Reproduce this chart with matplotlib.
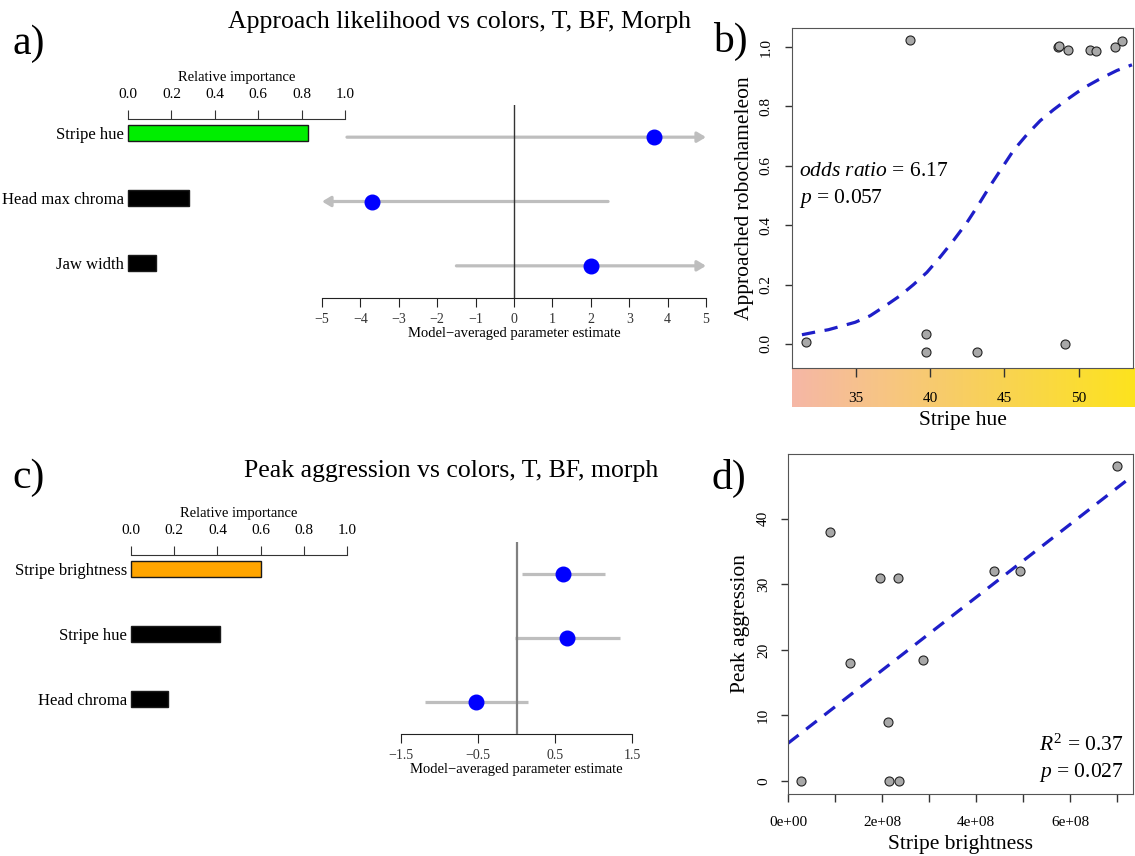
import numpy as np
import matplotlib
matplotlib.use('Agg')
import matplotlib.pyplot as plt
from matplotlib.colors import LinearSegmentedColormap

plt.rcParams['font.family'] = 'Liberation Serif'
plt.rcParams['mathtext.fontset'] = 'custom'
plt.rcParams['mathtext.rm'] = 'Liberation Serif'
plt.rcParams['mathtext.it'] = 'Liberation Serif:italic'

W, H = 1135, 856

# --- panel a: approach likelihood, model averaging
a_vars = ['Stripe hue', 'Head max chroma', 'Jaw width']
a_importance = [0.83, 0.28, 0.13]
a_bar_colors = ['#00ee00', 'black', 'black']
a_est = [3.65, -3.7, 2.0]
a_lo = [-4.35, -5.0, -1.5]   # -5 / 5 = runs off the axis (arrow)
a_hi = [5.0, 2.45, 5.0]

# --- panel c: peak aggression, model averaging
c_vars = ['Stripe brightness', 'Stripe hue', 'Head chroma']
c_importance = [0.60, 0.41, 0.17]
c_bar_colors = ['#ffa500', 'black', 'black']
c_est = [0.60, 0.65, -0.52]
c_lo = [0.07, -0.02, -1.19]
c_hi = [1.15, 1.35, 0.15]

# --- panel b: approached robochameleon vs stripe hue (jittered 0/1)
b_hue = [31.60, 38.61, 39.74, 39.74, 43.19, 49.08, 48.59, 48.70, 49.31, 50.74, 51.17, 52.45, 52.94]
b_approach = [0.007, 1.022, 0.034, -0.026, -0.026, 0.0, 1.0, 1.003, 0.991, 0.989, 0.985, 1.0, 1.020]
# fitted logistic curve
b_fit_hue = [31.36, 32.26, 33.15, 34.16, 34.95, 35.96, 37.09, 37.99, 38.88, 39.78, 40.68, 41.58, 42.48,
             43.26, 44.05, 44.84, 45.62, 46.52, 47.42, 48.32, 49.22, 50.34, 51.46, 52.59, 53.6]
b_fit_prob = [0.031, 0.040, 0.048, 0.062, 0.073, 0.095, 0.132, 0.163, 0.200, 0.241, 0.293, 0.349, 0.409,
              0.469, 0.533, 0.593, 0.652, 0.705, 0.752, 0.789, 0.823, 0.862, 0.893, 0.921, 0.940]
b_hue_ticks = [35, 40, 45, 50]
b_y_ticks = [0.0, 0.2, 0.4, 0.6, 0.8, 1.0]

# --- panel d: peak aggression vs stripe brightness
d_brightness = [0.27e8, 0.88e8, 1.32e8, 1.94e8, 2.34e8, 2.11e8, 2.15e8, 2.36e8, 2.87e8, 4.38e8, 4.93e8, 7.0e8]
d_aggression = [0, 38, 18, 31, 31, 9, 0, 0, 18.5, 32, 32, 48]
d_intercept = 5.8
d_slope = 5.56e-8
d_x_ticks = [0, 1e8, 2e8, 3e8, 4e8, 5e8, 6e8, 7e8]
d_x_labels = ['0e+00', '', '2e+08', '', '4e+08', '', '6e+08', '']
d_y_ticks = [0, 10, 20, 30, 40]

imp_ticks = [0.0, 0.2, 0.4, 0.6, 0.8, 1.0]

GREY = '#bebebe'
FITBLUE = '#1e1ec8'
PTGREY = '#a8a8a8'

fig = plt.figure(figsize=(W / 100, H / 100), dpi=100)


def px_axes(left, top, right, bottom):
    return fig.add_axes([left / W, 1 - bottom / H, (right - left) / W, (bottom - top) / H])


def ftext(x, y, s, **kw):
    fig.text(x / W, 1 - y / H, s, **kw)


def importance_panel(left, right, top, bottom, names, values, colors):
    ax = px_axes(left, top, right, bottom)
    y = np.arange(len(names))
    ax.barh(y, values, height=0.246, color=colors, edgecolor='#1a1a1a', linewidth=1, clip_on=False)
    ax.set_xlim(0, 1)
    ax.set_ylim(2.54, -0.215)
    for s in ['left', 'right', 'bottom']:
        ax.spines[s].set_visible(False)
    ax.spines['top'].set_color('#333333')
    ax.xaxis.tick_top()
    ax.xaxis.set_label_position('top')
    ax.set_xticks(imp_ticks)
    ax.set_xticklabels(['%.1f' % v for v in imp_ticks])
    ax.tick_params(axis='x', length=6.5, width=0.8, color='#333333', labelsize=11, pad=6.5)
    ax.set_xlabel('Relative importance', fontsize=10.5, labelpad=5)
    ax.set_yticks(y)
    ax.set_yticklabels(names, fontsize=12)
    ax.tick_params(axis='y', length=0, pad=3)
    ax.patch.set_visible(False)
    return ax


def estimate_panel(left, right, top, bottom, est, lo, hi, xlim, ticks, zero_color, zero_lw):
    ax = px_axes(left, top, right, bottom)
    ax.set_xlim(xlim)
    ax.set_ylim(2.5, -0.5)
    ax.axvline(0, color=zero_color, lw=zero_lw, zorder=3)
    for i in range(len(est)):
        if hi[i] >= xlim[1]:
            ax.annotate('', xy=(hi[i], i), xytext=(lo[i], i),
                        arrowprops=dict(arrowstyle='-|>,head_length=0.5,head_width=0.3', color=GREY,
                                        lw=2.3, shrinkA=0, shrinkB=0, mutation_scale=10), zorder=2,
                        annotation_clip=False)
        elif lo[i] <= xlim[0]:
            ax.annotate('', xy=(lo[i], i), xytext=(hi[i], i),
                        arrowprops=dict(arrowstyle='-|>,head_length=0.5,head_width=0.3', color=GREY,
                                        lw=2.3, shrinkA=0, shrinkB=0, mutation_scale=10), zorder=2,
                        annotation_clip=False)
        else:
            ax.hlines(i, lo[i], hi[i], color=GREY, lw=2.3, zorder=2)
    ax.plot(est, range(len(est)), 'o', color='#0000ff', ms=10.5, zorder=4, clip_on=False)
    for s in ['left', 'right', 'top']:
        ax.spines[s].set_visible(False)
    ax.spines['bottom'].set_color('#222222')
    ax.set_yticks([])
    ax.set_xticks(ticks)
    ax.tick_params(axis='x', length=6.5, width=0.8, color='#222222', labelsize=10,
                   labelcolor='#333333', pad=4)
    ax.set_xlabel('Model\u2212averaged parameter estimate', fontsize=10.5, labelpad=1)
    ax.patch.set_visible(False)
    return ax


# ---------------- panel a
ftext(12, 44, 'a)', fontsize=30, va='center', ha='left')
ftext(460, 22, 'Approach likelihood vs colors, T, BF, Morph', fontsize=18.5, ha='center', va='center')
importance_panel(128, 345, 119, 298, a_vars, a_importance, a_bar_colors)
estimate_panel(322, 706, 105, 298, a_est, a_lo, a_hi, (-5, 5), list(range(-5, 6)), '#333333', 1.0)

# ---------------- panel c
ftext(12, 478, 'c)', fontsize=30, va='center', ha='left')
ftext(451, 471, 'Peak aggression vs colors, T, BF, morph', fontsize=18.5, ha='center', va='center')
importance_panel(131, 347, 555, 734, c_vars, c_importance, c_bar_colors)
estimate_panel(401, 632, 542, 734, c_est, c_lo, c_hi, (-1.5, 1.5), [-1.5, -0.5, 0.5, 1.5], '#808080', 1.6)

# ---------------- panel b
b_xlim = (30.69, 53.67)
strip = px_axes(792, 368, 1135, 407)
grad_cmap = LinearSegmentedColormap.from_list('hue', ['#f5b7a6', '#f7c486', '#f8ce62', '#fad940', '#fde31e'])
strip.imshow(np.linspace(0, 1, 256)[None, :], extent=[b_xlim[0], b_xlim[1] + 0.15, 0, 1],
             aspect='auto', cmap=grad_cmap)
strip.set_xlim(b_xlim[0], b_xlim[1] + 0.15)
strip.axis('off')

ax_b = px_axes(792, 28, 1133, 368)
ax_b.set_zorder(3)
ax_b.patch.set_visible(False)
ax_b.plot(b_fit_hue, b_fit_prob, color=FITBLUE, lw=2.3, ls=(0, (4.2, 3)))
ax_b.plot(b_hue, b_approach, 'o', ms=6.5, mfc=PTGREY, mec='#222222', mew=0.8)
ax_b.set_xlim(b_xlim)
ax_b.set_ylim(-0.081, 1.064)
for s in ax_b.spines.values():
    s.set_color('#555555')
ax_b.set_xticks(b_hue_ticks)
ax_b.set_yticks(b_y_ticks)
ax_b.set_yticklabels(['%.1f' % v for v in b_y_ticks], rotation=90, va='center')
ax_b.tick_params(axis='x', length=6.5, width=1, color='#333333', labelsize=11, pad=10.5)
ax_b.tick_params(axis='y', length=5, width=1, color='#333333', labelsize=11, pad=9)
ax_b.set_xlabel('Stripe hue', fontsize=15.5, labelpad=4.5)
ax_b.set_ylabel('Approached robochameleon', fontsize=15.5, labelpad=4)
ftext(799, 172, '$odds\\ ratio$ = 6.17', fontsize=15.5, va='center', ha='left')
ftext(799, 199, '$p$ = 0.057', fontsize=15.5, va='center', ha='left')
ftext(713, 41, 'b)', fontsize=30, va='center', ha='left')

# ---------------- panel d
ax_d = px_axes(788, 454, 1133, 794)
ax_d.axline((0, d_intercept), slope=d_slope, color=FITBLUE, lw=2.3, ls=(0, (4.2, 3)))
ax_d.plot(d_brightness, d_aggression, 'o', ms=6.5, mfc=PTGREY, mec='#222222', mew=0.8)
ax_d.set_xlim(-0.01e8, 7.34e8)
ax_d.set_ylim(-2.0, 49.9)
for s in ax_d.spines.values():
    s.set_color('#555555')
ax_d.set_xticks(d_x_ticks)
ax_d.set_xticklabels(d_x_labels)
ax_d.set_yticks(d_y_ticks)
ax_d.set_yticklabels([str(v) for v in d_y_ticks], rotation=90, va='center')
ax_d.tick_params(axis='x', length=5.5, width=1, color='#333333', labelsize=11, pad=10.5)
ax_d.tick_params(axis='y', length=5, width=1, color='#333333', labelsize=11, pad=8)
ax_d.set_xlabel('Stripe brightness', fontsize=15.5, labelpad=4)
ax_d.set_ylabel('Peak aggression', fontsize=15.5, labelpad=5)
ftext(1124, 745, '$R^2$ = 0.37', fontsize=15.5, va='center', ha='right')
ftext(1124, 772, '$p$ = 0.027', fontsize=15.5, va='center', ha='right')
ftext(712, 478, 'd)', fontsize=30, va='center', ha='left')

fig.savefig('out.png', dpi=100)
